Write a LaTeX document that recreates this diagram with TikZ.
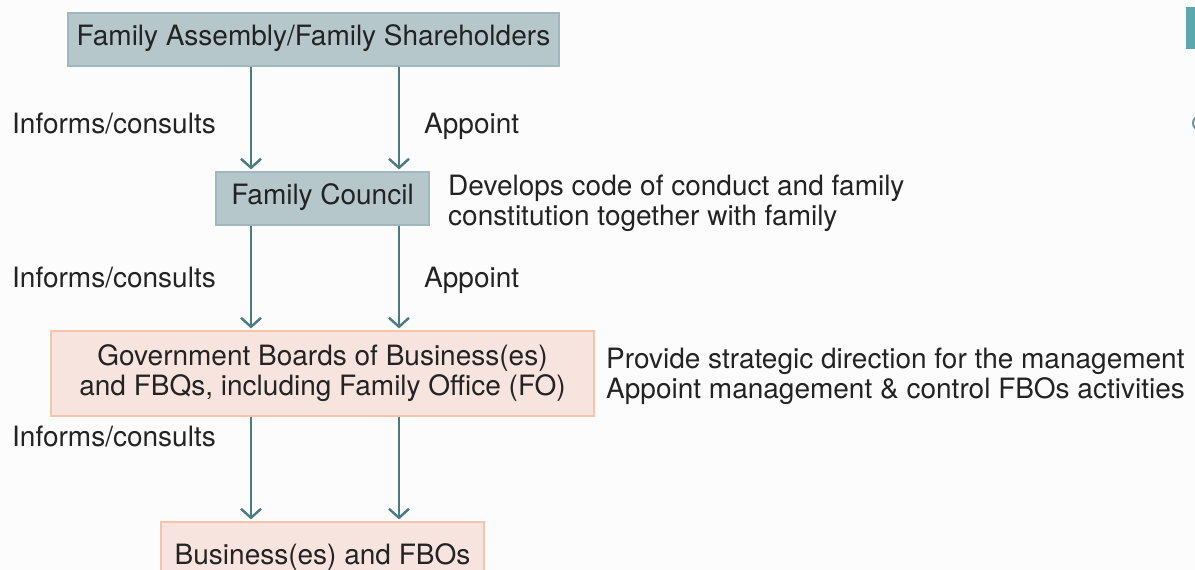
\documentclass[tikz,border=0pt]{standalone}
\usepackage{fontspec}
\setmainfont{TeX Gyre Heros}
\usetikzlibrary{arrows.meta,positioning}
\definecolor{bgcol}{RGB}{252,252,252}
\definecolor{bluefill}{RGB}{181,199,203}
\definecolor{blueline}{RGB}{160,184,189}
\definecolor{pinkfill}{RGB}{248,228,222}
\definecolor{pinkline}{RGB}{246,195,171}
\definecolor{arrowcol}{RGB}{74,123,128}
\definecolor{textcol}{RGB}{35,35,35}
\definecolor{tealcol}{RGB}{90,168,171}

\begin{document}
\begin{tikzpicture}[x=1pt,y=-1pt,
    font=\fontsize{28}{30}\selectfont, text=textcol,
    bluebox/.style={fill=bluefill, draw=blueline, line width=1.2pt, inner sep=0pt, align=center},
    pinkbox/.style={fill=pinkfill, draw=pinkline, line width=1.2pt, inner sep=0pt, align=center},
    note/.style={anchor=base west, inner sep=0pt, align=left},
    flow/.style={draw=arrowcol, line width=2.4pt, shorten >=2pt,
        -{Straight Barb[length=9pt,width=20pt,line width=2.4pt]}}]
    % Page
    \useasboundingbox (0,0) rectangle (1195,570);
    \fill[bgcol] (0,0) rectangle (1195,570);
    \clip (0,0) rectangle (1195,570);
    % Arrow columns
    \coordinate (lx) at (251,0);
    \coordinate (rx) at (399,0);
    % Boxes
    \node[bluebox, minimum width=491pt, minimum height=53pt] (assembly) at (313.5,39.5) {\strut Family Assembly/Family Shareholders};
    \node[bluebox, minimum width=213pt, minimum height=53pt] (council) at (322.5,198.5) {\strut Family Council};
    \node[pinkbox, minimum width=543pt, minimum height=85pt] (boards) at (322.5,373.5) {Government Boards of Business(es)\\and FBQs, including Family Office (FO)};
    \node[pinkbox, minimum width=323pt, minimum height=72pt] (business) at (322.5,558) {\strut Business(es) and FBOs};
    % Connectors
    \draw[flow] (assembly.south -| lx) -- (council.north -| lx);
    \draw[flow] (assembly.south -| rx) -- (council.north -| rx);
    \draw[flow] (council.south -| lx) -- (boards.north -| lx);
    \draw[flow] (council.south -| rx) -- (boards.north -| rx);
    \draw[flow] (boards.south -| lx) -- (business.north -| lx);
    \draw[flow] (boards.south -| rx) -- (business.north -| rx);
    % Labels
    \node[note] (inform1) at (12,133) {Informs/consults};
    \node[note] (appoint1) at (424,133) {Appoint};
    \node[note] (inform2) at (12,287) {Informs/consults};
    \node[note] (appoint2) at (424,287) {Appoint};
    \node[note] (inform3) at (12,446) {Informs/consults};
    \node[note] (develops) at (448,225) {Develops code of conduct and family\\constitution together with family};
    \node[note] (provide) at (606,398) {Provide strategic direction for the management\\Appoint management \& control FBOs activities};
    % Edge marks
    \fill[tealcol] (1186,7) rectangle (1200,49);
    \draw[arrowcol!80, line width=2pt] (1200,123) circle (7);
\end{tikzpicture}
\end{document}
